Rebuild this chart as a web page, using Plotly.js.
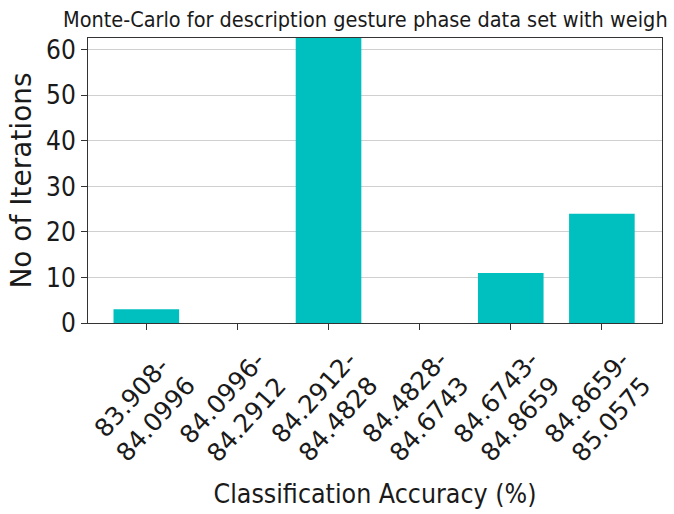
<!DOCTYPE html>
<html>
<head>
<meta charset="utf-8">
<script src="https://cdn.plot.ly/plotly-3.0.1.min.js"></script>
<style>
  html, body { margin: 0; padding: 0; background: #fff; }
  #chart { width: 674px; height: 514px; }
</style>
</head>
<body>
<div id="chart"></div>
<script>
// Accuracy bins (lower-upper bounds) and iteration counts per bin
const binLabels = [
  "83.908-<br>84.0996",
  "84.0996-<br>84.2912",
  "84.2912-<br>84.4828",
  "84.4828-<br>84.6743",
  "84.6743-<br>84.8659",
  "84.8659-<br>85.0575"
];
const iterations = [3, 0, 63, 0, 11, 24];
const yTicks = [0, 10, 20, 30, 40, 50, 60];

const NARROW = "DejaVu Sans Condensed, DejaVu Sans, sans-serif";
const WIDE = "DejaVu Sans, sans-serif";
const INK = "#1a1a1a";
const binIndex = binLabels.map((_, i) => i);

const trace = {
  type: "bar",
  x: binIndex,
  y: iterations,
  width: 0.72,
  marker: { color: "#00bfbf", line: { width: 0 } },
  hoverinfo: "skip"
};

// Rotated, centre-aligned bin labels below each tick
const binAnnotations = binLabels.map((label, i) => ({
  x: i,
  xref: "x",
  y: -0.3,
  yref: "paper",
  text: label,
  textangle: -48,
  showarrow: false,
  xanchor: "center",
  yanchor: "middle",
  align: "center",
  xshift: -3,
  font: { family: WIDE, size: 25, color: INK }
}));

const layout = {
  width: 674,
  height: 514,
  margin: { l: 88, r: 12, t: 38, b: 191 },
  paper_bgcolor: "#ffffff",
  plot_bgcolor: "#ffffff",
  showlegend: false,
  font: { family: NARROW, color: "#000" },
  title: {
    text: "Monte-Carlo for description gesture phase data set with weigh",
    font: { family: NARROW, size: 21.5, color: INK },
    x: 0.542, xanchor: "center",
    y: 0.963, yanchor: "middle"
  },
  xaxis: {
    range: [-0.64, 5.66],
    tickmode: "array",
    tickvals: binIndex,
    showticklabels: false,
    ticks: "outside", ticklen: 6, tickwidth: 1, tickcolor: "#333",
    showgrid: false, zeroline: false,
    showline: true, linecolor: "#333", linewidth: 1, mirror: true,
    title: {
      text: "Classification Accuracy (%)",
      font: { family: NARROW, size: 26.5, color: INK },
      standoff: 155
    }
  },
  yaxis: {
    range: [0, 62.6],
    tickmode: "array",
    tickvals: yTicks,
    tickfont: { family: NARROW, size: 26, color: INK },
    ticks: "outside", ticklen: 6, tickwidth: 1, tickcolor: "#333",
    showgrid: true, gridcolor: "#d0d0d0", gridwidth: 1,
    zeroline: false,
    showline: true, linecolor: "#333", linewidth: 1, mirror: true,
    title: {
      text: "No of Iterations",
      font: { family: WIDE, size: 28, color: INK },
      standoff: 6
    }
  },
  annotations: binAnnotations
};

Plotly.newPlot("chart", [trace], layout, { displayModeBar: false, staticPlot: true });
</script>
</body>
</html>
